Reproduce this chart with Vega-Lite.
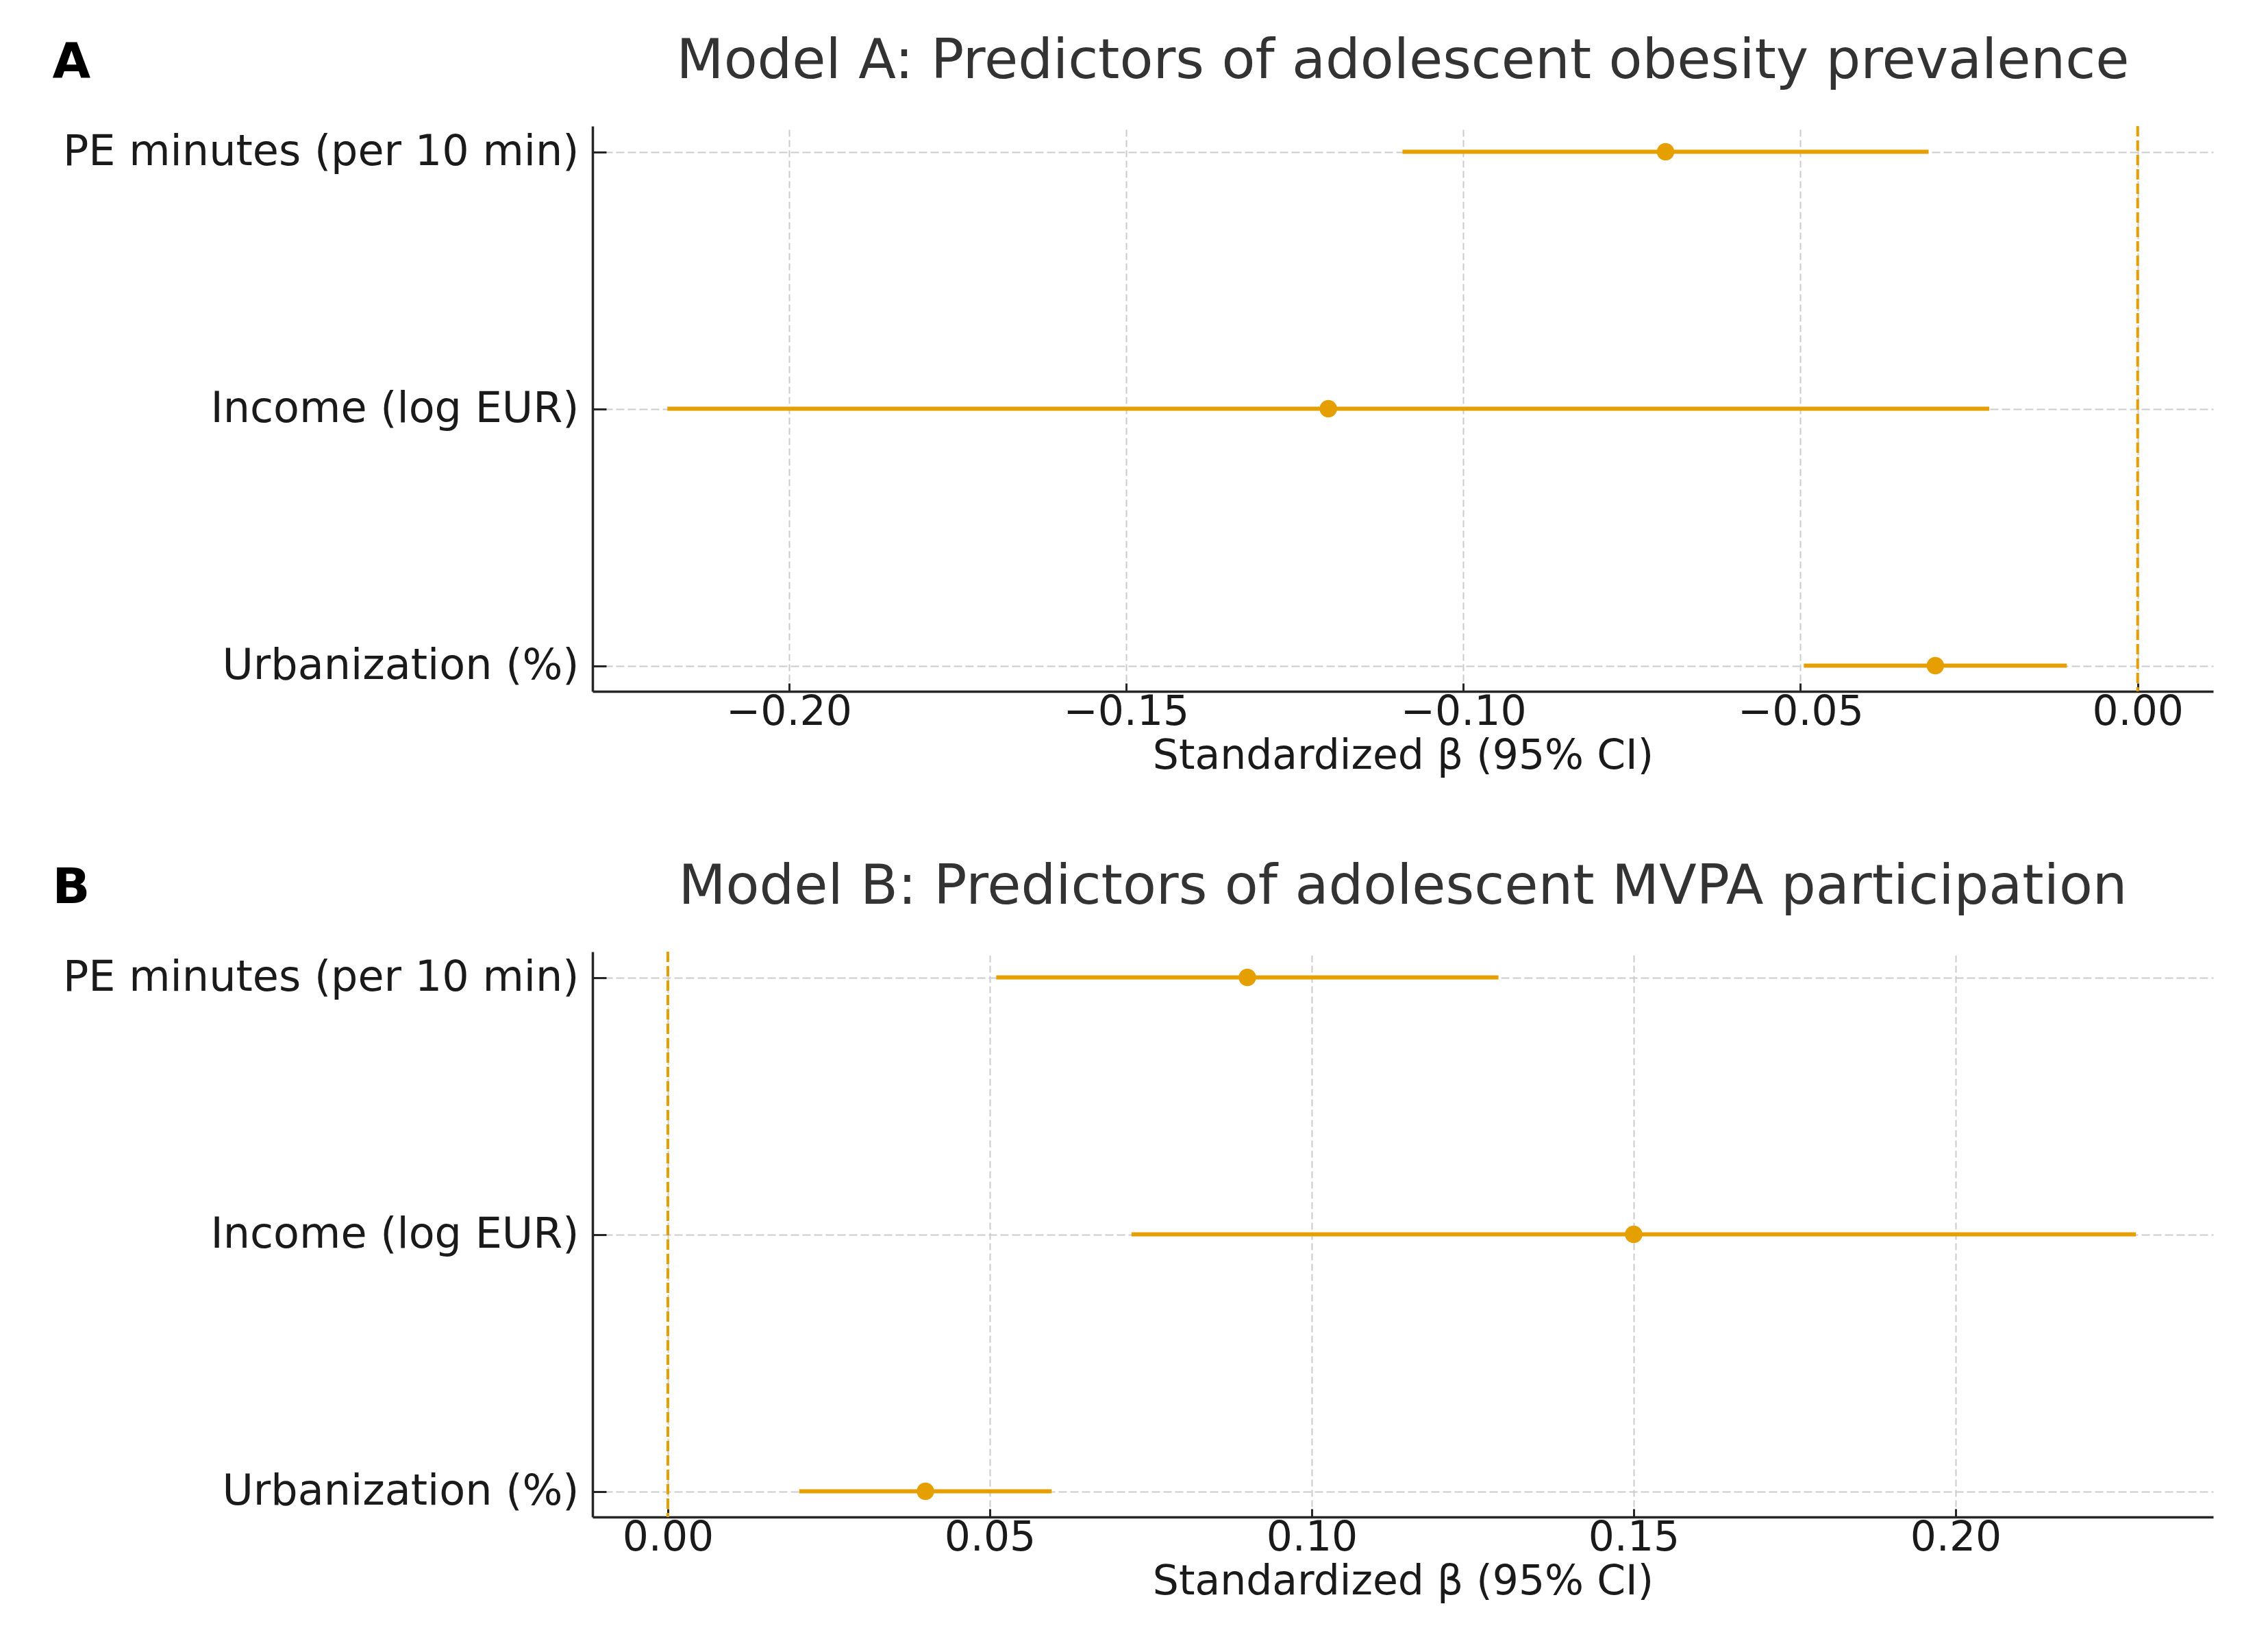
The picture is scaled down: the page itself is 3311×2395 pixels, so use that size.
{
  "$schema": "https://vega.github.io/schema/vega-lite/v6.json",
  "background": "white",
  "padding": {"left": 76, "top": 50, "right": 53, "bottom": 30},
  "bounds": "flush",
  "spacing": 380,
  "config": {
    "font": "DejaVu Sans",
    "view": {"stroke": null},
    "axis": {
      "domainColor": "#262626",
      "domainWidth": 3.5,
      "tickColor": "#262626",
      "tickWidth": 3,
      "labelFont": "DejaVu Sans",
      "labelColor": "#1a1a1a",
      "labelLimit": 2000,
      "titleFont": "DejaVu Sans",
      "titleColor": "#1a1a1a",
      "titleFontWeight": "normal",
      "gridColor": "#cccccc",
      "gridWidth": 2
    },
    "axisX": {
      "tickSize": -12,
      "labelFontSize": 60,
      "labelPadding": 13,
      "labelFlush": false,
      "labelOverlap": false,
      "titleFontSize": 60,
      "titleBaseline": "alphabetic",
      "titleY": 112,
      "gridDash": [10, 5]
    },
    "axisY": {
      "grid": true,
      "tickSize": -20,
      "labelFontSize": 62,
      "labelPadding": 40,
      "gridDash": [12, 5]
    }
  },
  "datasets": {
    "modelA": [
      {"predictor": "PE minutes (per 10 min)", "beta": -0.070, "lo": -0.109, "hi": -0.031},
      {"predictor": "Income (log EUR)", "beta": -0.120, "lo": -0.218, "hi": -0.022},
      {"predictor": "Urbanization (%)", "beta": -0.030, "lo": -0.0495, "hi": -0.0105}
    ],
    "modelB": [
      {"predictor": "PE minutes (per 10 min)", "beta": 0.090, "lo": 0.051, "hi": 0.129},
      {"predictor": "Income (log EUR)", "beta": 0.150, "lo": 0.072, "hi": 0.228},
      {"predictor": "Urbanization (%)", "beta": 0.040, "lo": 0.0204, "hi": 0.0596}
    ],
    "zero": [{"zero": 0}]
  },
  "vconcat": [
    {
      "width": 2366,
      "height": 825,
      "title": {
        "text": "Model A: Predictors of adolescent obesity prevalence",
        "frame": "group",
        "anchor": "middle",
        "fontSize": 80,
        "fontWeight": "normal",
        "color": "#333333",
        "baseline": "alphabetic",
        "offset": -140
      },
      "layer": [
        {
          "data": {"name": "zero"},
          "mark": {"type": "rule", "color": "#E69F00", "strokeWidth": 4, "strokeDash": [15, 6]},
          "encoding": {
            "x": {
              "field": "zero", "type": "quantitative",
              "scale": {"domain": [-0.2291, 0.0112], "nice": false, "zero": false},
              "axis": {"values": [-0.2, -0.15, -0.1, -0.05, 0], "format": ".2f", "title": "Standardized β (95% CI)"}
            }
          }
        },
        {
          "data": {"name": "modelA"},
          "mark": {"type": "rule", "color": "#E69F00", "strokeWidth": 6},
          "encoding": {
            "x": {"field": "lo", "type": "quantitative"},
            "x2": {"field": "hi"},
            "y": {
              "field": "predictor", "type": "nominal",
              "sort": ["PE minutes (per 10 min)", "Income (log EUR)", "Urbanization (%)"],
              "scale": {"type": "point", "padding": 0.1},
              "axis": {
                "grid": true,
                "title": "A", "titleAngle": 0, "titleAlign": "left", "titleBaseline": "alphabetic",
                "titleX": -789, "titleY": -72, "titleFontSize": 72, "titleFontWeight": "bold", "titleColor": "#000000"
              }
            }
          }
        },
        {
          "data": {"name": "modelA"},
          "mark": {"type": "point", "filled": true, "color": "#E69F00", "opacity": 1, "size": 650},
          "encoding": {
            "x": {"field": "beta", "type": "quantitative"},
            "y": {
              "field": "predictor", "type": "nominal",
              "sort": ["PE minutes (per 10 min)", "Income (log EUR)", "Urbanization (%)"],
              "scale": {"type": "point", "padding": 0.1},
              "axis": {
                "grid": true,
                "title": "A", "titleAngle": 0, "titleAlign": "left", "titleBaseline": "alphabetic",
                "titleX": -789, "titleY": -72, "titleFontSize": 72, "titleFontWeight": "bold", "titleColor": "#000000"
              }
            }
          }
        }
      ]
    },
    {
      "width": 2366,
      "height": 825,
      "title": {
        "text": "Model B: Predictors of adolescent MVPA participation",
        "frame": "group",
        "anchor": "middle",
        "fontSize": 80,
        "fontWeight": "normal",
        "color": "#333333",
        "baseline": "alphabetic",
        "offset": -140
      },
      "layer": [
        {
          "data": {"name": "zero"},
          "mark": {"type": "rule", "color": "#E69F00", "strokeWidth": 4, "strokeDash": [15, 6]},
          "encoding": {
            "x": {
              "field": "zero", "type": "quantitative",
              "scale": {"domain": [-0.0117, 0.24], "nice": false, "zero": false},
              "axis": {"values": [0, 0.05, 0.1, 0.15, 0.2], "format": ".2f", "title": "Standardized β (95% CI)"}
            }
          }
        },
        {
          "data": {"name": "modelB"},
          "mark": {"type": "rule", "color": "#E69F00", "strokeWidth": 6},
          "encoding": {
            "x": {"field": "lo", "type": "quantitative"},
            "x2": {"field": "hi"},
            "y": {
              "field": "predictor", "type": "nominal",
              "sort": ["PE minutes (per 10 min)", "Income (log EUR)", "Urbanization (%)"],
              "scale": {"type": "point", "padding": 0.1},
              "axis": {
                "grid": true,
                "title": "B", "titleAngle": 0, "titleAlign": "left", "titleBaseline": "alphabetic",
                "titleX": -789, "titleY": -72, "titleFontSize": 72, "titleFontWeight": "bold", "titleColor": "#000000"
              }
            }
          }
        },
        {
          "data": {"name": "modelB"},
          "mark": {"type": "point", "filled": true, "color": "#E69F00", "opacity": 1, "size": 650},
          "encoding": {
            "x": {"field": "beta", "type": "quantitative"},
            "y": {
              "field": "predictor", "type": "nominal",
              "sort": ["PE minutes (per 10 min)", "Income (log EUR)", "Urbanization (%)"],
              "scale": {"type": "point", "padding": 0.1},
              "axis": {
                "grid": true,
                "title": "B", "titleAngle": 0, "titleAlign": "left", "titleBaseline": "alphabetic",
                "titleX": -789, "titleY": -72, "titleFontSize": 72, "titleFontWeight": "bold", "titleColor": "#000000"
              }
            }
          }
        }
      ]
    }
  ]
}
